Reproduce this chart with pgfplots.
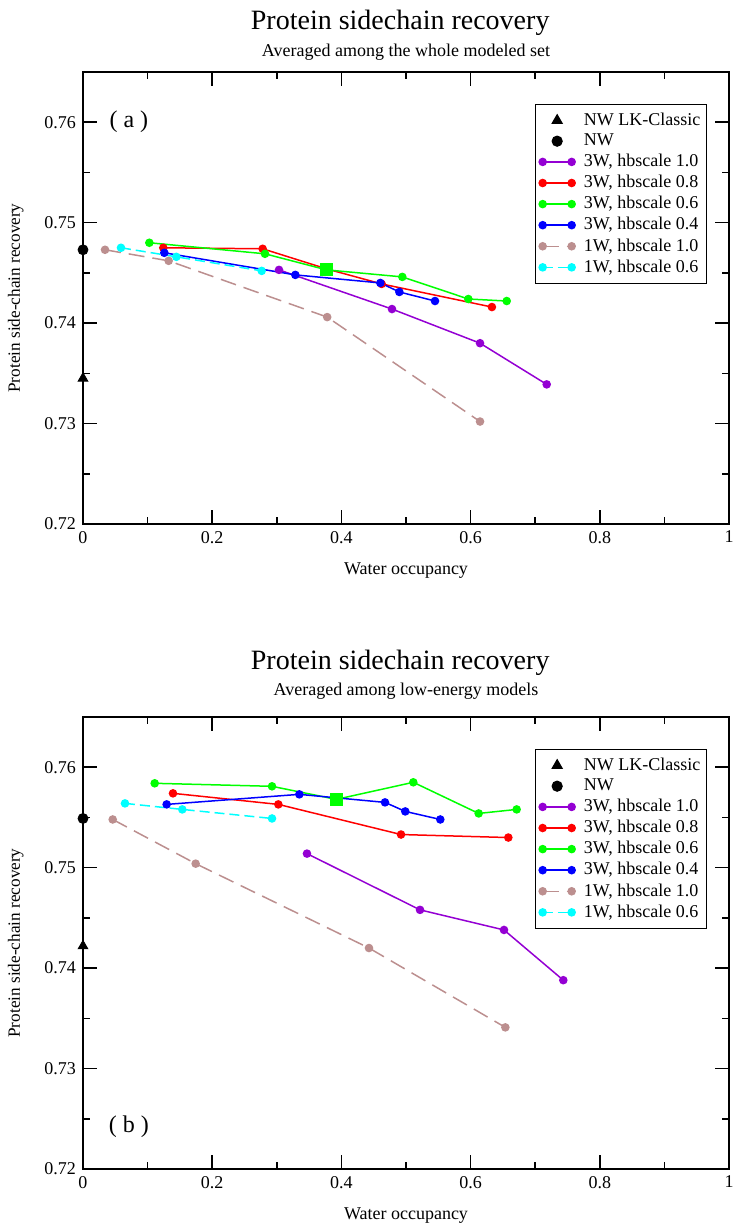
\documentclass[border=0pt]{standalone}
\usepackage{fontspec}
\setmainfont{Liberation Serif}
\usepackage{pgfplots}
\pgfplotsset{compat=1.18}
\definecolor{gviolet}{RGB}{148,0,211}
\definecolor{gbrown}{RGB}{188,143,143}
\definecolor{gcyan}{RGB}{0,255,255}
\definecolor{ggreen}{RGB}{0,255,0}

\pgfplotsset{
  panel/.style={
    width=323pt, height=226pt, scale only axis,
    xmin=0, xmax=1, ymin=0.72, ymax=0.765,
    xtick={0,0.2,0.4,0.6,0.8,1},
    ytick={0.72,0.73,0.74,0.75,0.76},
    minor x tick num=1, minor y tick num=1,
    tick align=inside,
    major tick length=7pt, minor tick length=3.5pt,
    every tick/.style={black, line width=0.75pt},
    axis line style={line width=0.75pt},
    scaled y ticks=false,
    /pgf/number format/assume math mode=true,
    tick label style={font=\rmfamily\fontsize{9}{10}\selectfont},
    yticklabel style={/pgf/number format/.cd, fixed, fixed zerofill, precision=2},
    xlabel={Water occupancy},
    ylabel={Protein side-chain recovery},
    every axis x label/.style={at={(axis description cs:0.5,-0.104)}, anchor=center, font=\rmfamily\fontsize{9}{11}\selectfont},
    every axis y label/.style={at={(axis description cs:-0.104,0.5)}, anchor=center, rotate=90, font=\rmfamily\fontsize{8.6}{10}\selectfont},
    clip=false,
    legend cell align=left,
    legend style={at={(0.966,0.929)}, anchor=north east, draw=black, line width=0.6pt,
      font=\rmfamily\fontsize{9}{10}\selectfont, inner xsep=2pt, inner ysep=2pt,
      nodes={inner xsep=1pt}, row sep=-1.2pt, column sep=3.4pt},
  },
  ln/.style={line width=0.75pt, mark=*, mark size=1.75pt, mark options={solid},
    legend image code/.code={\draw[##1] plot coordinates {(0pt,0pt) (14.5pt,0pt)};}},
  pt/.style={only marks, black,
    legend image code/.code={\draw[##1] plot coordinates {(7.25pt,0pt)};}},
  brdash/.style={dash pattern=on 8pt off 4pt},
  cydash/.style={dash pattern=on 5pt off 2.5pt},
}

\begin{document}
\begin{tikzpicture}
% (a) whole modeled set
\begin{axis}[panel, at={(0pt,0pt)}]
\addplot[pt, mark=triangle*, mark size=2.8pt] coordinates {(0,0.7345)};
\addlegendentry{NW LK-Classic}
\addplot[pt, mark=*, mark size=2.5pt] coordinates {(0,0.7473)};
\addlegendentry{NW}
\addplot[ln, color=gviolet] coordinates {(0.3034,0.7453)(0.4783,0.7414)(0.6146,0.7380)(0.7178,0.7339)};
\addlegendentry{3W, hbscale 1.0}
\addplot[ln, color=red] coordinates {(0.1243,0.7475)(0.2781,0.7474)(0.377,0.7454)(0.4623,0.7439)(0.633,0.7416)};
\addlegendentry{3W, hbscale 0.8}
\addplot[ln, color=ggreen] coordinates {(0.1027,0.7480)(0.2817,0.7469)(0.377,0.7453)(0.4943,0.7446)(0.5965,0.7424)(0.6559,0.7422)};
\addlegendentry{3W, hbscale 0.6}
\addplot[ln, color=blue] coordinates {(0.1259,0.7470)(0.3287,0.7448)(0.4603,0.7440)(0.4897,0.7431)(0.5449,0.7422)};
\addlegendentry{3W, hbscale 0.4}
\addplot[ln, brdash, color=gbrown] coordinates {(0.0341,0.7473)(0.1326,0.7462)(0.378,0.7406)(0.6146,0.7302)};
\addlegendentry{1W, hbscale 1.0}
\addplot[ln, cydash, color=gcyan] coordinates {(0.0588,0.7475)(0.1445,0.7466)(0.2766,0.7452)};
\addlegendentry{1W, hbscale 0.6}
\addplot[only marks, mark=square*, mark size=3pt, color=ggreen, forget plot] coordinates {(0.377,0.7453)};
\node[anchor=base, font=\rmfamily\fontsize{14}{16}\selectfont] at (rel axis cs:0.491,1) [yshift=21.5pt] {Protein sidechain recovery};
\node[anchor=base, font=\rmfamily\fontsize{9}{11}\selectfont] at (rel axis cs:0.5,1) [yshift=8pt] {Averaged among the whole modeled set};
\node[font=\rmfamily\fontsize{12}{14}\selectfont] at (rel axis cs:0.071,0.889) {( a )};
\end{axis}

% (b) low-energy models
\begin{axis}[panel, at={(0pt,-322.5pt)}]
\addplot[pt, mark=triangle*, mark size=2.8pt] coordinates {(0,0.7422)};
\addlegendentry{NW LK-Classic}
\addplot[pt, mark=*, mark size=2.5pt] coordinates {(0,0.7549)};
\addlegendentry{NW}
\addplot[ln, color=gviolet] coordinates {(0.3467,0.7514)(0.5217,0.7458)(0.6517,0.7438)(0.7435,0.7388)};
\addlegendentry{3W, hbscale 1.0}
\addplot[ln, color=red] coordinates {(0.1393,0.7574)(0.3024,0.7563)(0.4923,0.7533)(0.6584,0.7530)};
\addlegendentry{3W, hbscale 0.8}
\addplot[ln, color=ggreen] coordinates {(0.111,0.7584)(0.2926,0.7581)(0.3921,0.7568)(0.5113,0.7585)(0.6125,0.7554)(0.6713,0.7558)};
\addlegendentry{3W, hbscale 0.6}
\addplot[ln, color=blue] coordinates {(0.1295,0.7563)(0.3349,0.7573)(0.4675,0.7565)(0.4989,0.7556)(0.5531,0.7548)};
\addlegendentry{3W, hbscale 0.4}
\addplot[ln, brdash, color=gbrown] coordinates {(0.046,0.7548)(0.1744,0.7504)(0.4427,0.7420)(0.6538,0.7341)};
\addlegendentry{1W, hbscale 1.0}
\addplot[ln, cydash, color=gcyan] coordinates {(0.065,0.7564)(0.1537,0.7558)(0.2926,0.7549)};
\addlegendentry{1W, hbscale 0.6}
\addplot[only marks, mark=square*, mark size=3pt, color=ggreen, forget plot] coordinates {(0.3921,0.7568)};
\node[anchor=base, font=\rmfamily\fontsize{14}{16}\selectfont] at (rel axis cs:0.491,1) [yshift=24pt] {Protein sidechain recovery};
\node[anchor=base, font=\rmfamily\fontsize{9}{11}\selectfont] at (rel axis cs:0.5,1) [yshift=11pt] {Averaged among low-energy models};
\node[font=\rmfamily\fontsize{12}{14}\selectfont] at (rel axis cs:0.071,0.094) {( b )};
\end{axis}

\pgfresetboundingbox
\path[use as bounding box] (-41.5pt,-353pt) rectangle (325pt,262pt);
\end{tikzpicture}
\end{document}
